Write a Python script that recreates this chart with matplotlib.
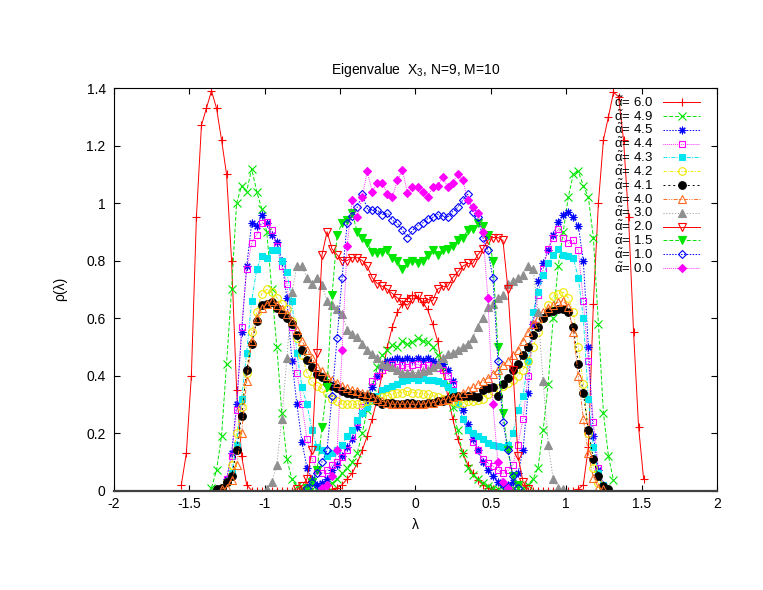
import matplotlib
matplotlib.use('Agg')
import matplotlib.pyplot as plt
import numpy as np

# bin grid shared by all curves: lam = lam0 + step * k
lam0 = -1.62
step = 1.0 / 30

# alpha = 6.0
k_60 = 2
rho_60 = [0.02, 0.13, 0.40, 0.95, 1.27, 1.33, 1.39, 1.33, 1.22, 1.10, 0.80, 0.35, 0.12, 0.02,
          0, 0, 0, 0, 0, 0, 0, 0, 0, 0, 0, 0, 0, 0, 0, 0,
          0.005, 0.01, 0.02, 0.04, 0.06, 0.095, 0.14, 0.19, 0.25, 0.32, 0.41, 0.50, 0.57, 0.62, 0.65, 0.67,
          0.68, 0.67, 0.655, 0.63, 0.58, 0.52, 0.42, 0.33, 0.25, 0.18, 0.13, 0.09, 0.06, 0.035, 0.02, 0.01, 0.005,
          0, 0, 0, 0, 0, 0, 0, 0, 0, 0, 0, 0, 0, 0, 0, 0,
          0.005, 0.02, 0.15, 0.65, 1.0, 1.22, 1.30, 1.385, 1.37, 1.22, 0.95, 0.55, 0.22, 0.04]

# alpha = 4.9
k_49 = 8
rho_49 = [0.01, 0.07, 0.19, 0.44, 0.70, 1.00, 1.06, 1.04, 1.12, 1.04, 0.98, 0.90, 0.70, 0.50, 0.27, 0.11,
          0.04, 0.015, 0.01, 0.005, 0.005, 0.005, 0.01, 0.015, 0.025, 0.04, 0.06, 0.08, 0.10, 0.13, 0.20, 0.28,
          0.36, 0.43, 0.47, 0.49, 0.505, 0.50, 0.52, 0.51, 0.515, 0.53, 0.52, 0.515, 0.50, 0.47, 0.43, 0.37,
          0.29, 0.21, 0.13, 0.08, 0.055, 0.04, 0.025, 0.015, 0.01, 0.005, 0.005, 0.005, 0.01, 0.01, 0.01, 0.02,
          0.04, 0.08, 0.21, 0.37, 0.60, 0.78, 0.90, 1.02, 1.10, 1.11, 1.06, 1.02, 0.88, 0.58, 0.27, 0.12, 0.035]

# alpha = 4.5
k_45 = 10
rho_45 = [0.01, 0.04, 0.13, 0.30, 0.55, 0.78, 0.93, 0.92, 0.96, 0.93, 0.89, 0.865, 0.80, 0.67, 0.45, 0.30,
          0.17, 0.08, 0.04, 0.02, 0.025, 0.04, 0.07, 0.09, 0.12, 0.15, 0.18, 0.22, 0.27, 0.31, 0.36, 0.40,
          0.43, 0.45, 0.455, 0.46, 0.455, 0.46, 0.455, 0.46, 0.455, 0.46, 0.45, 0.445, 0.44, 0.42, 0.38, 0.33,
          0.28, 0.23, 0.18, 0.14, 0.10, 0.07, 0.05, 0.03, 0.02, 0.02, 0.03, 0.06, 0.14, 0.34, 0.58, 0.73,
          0.79, 0.835, 0.89, 0.935, 0.96, 0.97, 0.95, 0.92, 0.80, 0.50, 0.19, 0.07, 0.02]

# alpha = 4.4
k_44 = 10
rho_44 = [0.01, 0.04, 0.12, 0.28, 0.57, 0.77, 0.86, 0.89, 0.93, 0.935, 0.905, 0.85, 0.78, 0.72, 0.57, 0.41,
          0.30, 0.18, 0.11, 0.07, 0.06, 0.07, 0.09, 0.10, 0.115, 0.14, 0.19, 0.24, 0.29, 0.33, 0.38, 0.40,
          0.42, 0.43, 0.44, 0.43, 0.435, 0.43, 0.435, 0.44, 0.43, 0.435, 0.43, 0.425, 0.42, 0.40, 0.37, 0.30,
          0.25, 0.21, 0.17, 0.14, 0.11, 0.095, 0.085, 0.07, 0.06, 0.07, 0.09, 0.16, 0.25, 0.40, 0.58, 0.68,
          0.77, 0.84, 0.88, 0.91, 0.88, 0.86, 0.87, 0.835, 0.66, 0.45, 0.24, 0.08, 0.02]

# alpha = 4.3
k_43 = 10
rho_43 = [0.01, 0.03, 0.06, 0.16, 0.32, 0.48, 0.66, 0.77, 0.815, 0.81, 0.835, 0.835, 0.80, 0.76, 0.66, 0.48,
          0.36, 0.30, 0.21, 0.15, 0.14, 0.12, 0.13, 0.14, 0.16, 0.19, 0.21, 0.245, 0.27, 0.29, 0.31, 0.33,
          0.35, 0.355, 0.365, 0.37, 0.38, 0.385, 0.39, 0.385, 0.39, 0.385, 0.385, 0.38, 0.375, 0.36, 0.345, 0.30,
          0.25, 0.21, 0.20, 0.19, 0.18, 0.165, 0.16, 0.155, 0.15, 0.16, 0.20, 0.28, 0.33, 0.45, 0.62, 0.69,
          0.75, 0.79, 0.82, 0.84, 0.82, 0.815, 0.81, 0.74, 0.60, 0.32, 0.15, 0.06, 0.02]

# alpha = 4.2
k_42 = 10
rho_42 = [0.01, 0.03, 0.09, 0.20, 0.29, 0.41, 0.55, 0.62, 0.685, 0.70, 0.69, 0.67, 0.65, 0.63, 0.59, 0.53,
          0.47, 0.41, 0.38, 0.365, 0.355, 0.34, 0.32, 0.31, 0.30, 0.30, 0.30, 0.30, 0.305, 0.31, 0.315, 0.32,
          0.325, 0.33, 0.335, 0.34, 0.34, 0.345, 0.34, 0.34, 0.335, 0.335, 0.33, 0.325, 0.32, 0.315, 0.31, 0.305,
          0.305, 0.31, 0.31, 0.315, 0.32, 0.335, 0.345, 0.355, 0.365, 0.375, 0.385, 0.40, 0.42, 0.45, 0.50, 0.55,
          0.60, 0.645, 0.675, 0.685, 0.69, 0.67, 0.62, 0.50, 0.37, 0.20, 0.08, 0.025, 0.01]

# alpha = 4.1
k_41 = 9
rho_41 = [0.005, 0.01, 0.03, 0.05, 0.14, 0.26, 0.42, 0.51, 0.59, 0.645, 0.65, 0.655, 0.635, 0.615, 0.60, 0.58,
          0.54, 0.49, 0.455, 0.43, 0.405, 0.395, 0.375, 0.365, 0.355, 0.345, 0.34, 0.335, 0.335, 0.33, 0.33, 0.325,
          0.31, 0.30, 0.305, 0.305, 0.30, 0.30, 0.305, 0.305, 0.30, 0.30, 0.305, 0.305, 0.31, 0.31, 0.32, 0.325,
          0.33, 0.33, 0.33, 0.33, 0.325, 0.35, 0.355, 0.36, 0.33, 0.37, 0.39, 0.42, 0.44, 0.47, 0.50, 0.54,
          0.57, 0.60, 0.62, 0.625, 0.63, 0.63, 0.62, 0.57, 0.44, 0.34, 0.21, 0.11, 0.05, 0.015, 0.005]

# alpha = 4.0
k_40 = 10
rho_40 = [0.005, 0.01, 0.035, 0.09, 0.20, 0.38, 0.52, 0.60, 0.635, 0.65, 0.66, 0.645, 0.63, 0.615, 0.59, 0.56,
          0.52, 0.49, 0.46, 0.43, 0.415, 0.40, 0.385, 0.375, 0.365, 0.355, 0.35, 0.345, 0.34, 0.335, 0.325, 0.32,
          0.31, 0.305, 0.30, 0.30, 0.30, 0.30, 0.30, 0.30, 0.30, 0.305, 0.305, 0.31, 0.315, 0.32, 0.325, 0.33,
          0.34, 0.35, 0.36, 0.37, 0.38, 0.39, 0.405, 0.42, 0.435, 0.45, 0.47, 0.49, 0.52, 0.55, 0.58, 0.60,
          0.62, 0.635, 0.645, 0.655, 0.66, 0.64, 0.55, 0.40, 0.25, 0.13, 0.045, 0.01, 0.005]

# alpha = 3.0
k_30 = 19
rho_30 = [0.005, 0.03, 0.09, 0.25, 0.46, 0.69, 0.78, 0.78, 0.74, 0.72, 0.74, 0.715, 0.66, 0.645, 0.63, 0.615,
          0.56, 0.545, 0.535, 0.51, 0.49, 0.475, 0.46, 0.44, 0.435, 0.43, 0.42, 0.41, 0.41, 0.41, 0.41, 0.415,
          0.42, 0.43, 0.44, 0.46, 0.475, 0.48, 0.49, 0.50, 0.51, 0.53, 0.57, 0.60, 0.64, 0.65, 0.67, 0.68,
          0.72, 0.73, 0.74, 0.75, 0.78, 0.77, 0.62, 0.38, 0.16, 0.04, 0.01, 0.005]

# alpha = 2.0
k_20 = 25
rho_20 = [0.005, 0.015, 0.04, 0.14, 0.48, 0.82, 0.90, 0.84, 0.82, 0.80, 0.80, 0.81, 0.81, 0.80, 0.78, 0.74,
          0.72, 0.71, 0.70, 0.685, 0.67, 0.655, 0.645, 0.665, 0.675, 0.655, 0.665, 0.66, 0.70, 0.71, 0.71, 0.74,
          0.76, 0.78, 0.79, 0.79, 0.82, 0.84, 0.87, 0.88, 0.88, 0.87, 0.70, 0.42, 0.12, 0.03, 0.005]

# alpha = 1.5
k_15 = 27
rho_15 = [0.01, 0.03, 0.07, 0.22, 0.36, 0.68, 0.89, 0.93, 0.94, 0.965, 0.90, 0.88, 0.86, 0.83, 0.825, 0.83,
          0.835, 0.81, 0.80, 0.77, 0.79, 0.80, 0.79, 0.80, 0.82, 0.835, 0.82, 0.835, 0.84, 0.85, 0.87, 0.88,
          0.905, 0.91, 0.93, 0.92, 0.89, 0.80, 0.50, 0.27, 0.14, 0.05, 0.02]

# alpha = 1.0
k_10 = 27
rho_10 = [0.01, 0.03, 0.06, 0.10, 0.14, 0.33, 0.53, 0.74, 0.93, 0.955, 0.985, 1.03, 0.98, 0.975, 0.975, 0.96,
          0.965, 0.94, 0.93, 0.905, 0.88, 0.905, 0.92, 0.93, 0.945, 0.95, 0.96, 0.955, 0.95, 0.97, 0.985, 1.01,
          1.03, 0.97, 0.95, 0.88, 0.835, 0.74, 0.45, 0.24, 0.14, 0.05, 0.01]

# alpha = 0.0
k_00 = 30
rho_00 = [0.01, 0.02, 0.05, 0.14, 0.49, 0.85, 1.01, 0.95, 1.02, 1.11, 1.04, 1.07, 1.07, 1.03, 1.02, 1.08,
          1.115, 1.035, 1.055, 1.055, 1.04, 1.02, 1.055, 1.06, 1.09, 1.055, 1.07, 1.10, 1.08, 1.01, 0.985, 0.965,
          0.90, 0.67, 0.30, 0.10, 0.03, 0.01]

alphas = ['6.0', '4.9', '4.5', '4.4', '4.3', '4.2', '4.1', '4.0', '3.0', '2.0', '1.5', '1.0', '0.0']
starts = [k_60, k_49, k_45, k_44, k_43, k_42, k_41, k_40, k_30, k_20, k_15, k_10, k_00]
curves = [rho_60, rho_49, rho_45, rho_44, rho_43, rho_42, rho_41, rho_40, rho_30, rho_20, rho_15, rho_10, rho_00]

# gnuplot-like styles: colour, marker, filled?, dash
red, green, blue, mag, cyan = '#ff0000', '#00e600', '#0000ff', '#ff00ff', '#00e5ee'
styles = [
    (red, '+', False, '-'),
    (green, 'x', False, (0, (4, 2))),
    (blue, (8, 2, 0), False, (0, (1.5, 1.5))),
    (mag, 's', False, (0, (0.8, 1.2))),
    (cyan, 's', True, (0, (4, 1.5, 1, 1.5))),
    ('#f0e800', 'o', False, (0, (3, 1.5, 1, 1.5))),
    ('black', 'o', True, (0, (2, 3))),
    ('#ff6a20', '^', False, (0, (4, 1.5, 1, 1.5, 1, 1.5))),
    ('#909090', '^', True, (0, (1, 2))),
    (red, 'v', False, '-'),
    (green, 'v', True, (0, (4, 2))),
    (blue, 'D', False, (0, (1.5, 1.5))),
    (mag, 'D', True, (0, (0.8, 1.2))),
]

plt.rcParams['font.family'] = ['Liberation Sans', 'DejaVu Sans']
plt.rcParams['mathtext.fontset'] = 'custom'
plt.rcParams['mathtext.rm'] = 'Liberation Sans'
plt.rcParams['mathtext.it'] = 'Liberation Sans'
plt.rcParams['axes.unicode_minus'] = False

fig = plt.figure(figsize=(7.63, 5.90), dpi=100)
ax = fig.add_axes([0.1494, 0.1686, 0.7903, 0.6822])

for a, k0, rho, (col, mk, filled, ls) in zip(alphas, starts, curves, styles):
    lam = lam0 + step * (k0 + np.arange(len(rho)))
    ms = 5.5
    if mk in ('D',):
        ms = 4.5
    if mk in ('s',):
        ms = 5
    ax.plot(lam, rho, color=col, lw=0.7, ls=ls, marker=mk, ms=ms, mew=0.8,
            mfc=col if filled else 'none', mec=col,
            label=r'$\tilde{\alpha}$= ' + a)

ax.set_xlim(-2, 2)
ax.set_ylim(0, 1.4)
ax.set_xticks(np.arange(-2, 2.01, 0.5))
ax.set_yticks(np.arange(0, 1.41, 0.2))
ax.xaxis.set_major_formatter(matplotlib.ticker.FormatStrFormatter('%g'))
ax.yaxis.set_major_formatter(matplotlib.ticker.FormatStrFormatter('%g'))
ax.tick_params(direction='in', top=True, right=True, length=4, width=0.8, labelsize=10)
ax.tick_params(axis='x', pad=5)
ax.tick_params(axis='y', pad=6)
for s in ax.spines.values():
    s.set_linewidth(0.8)
ax.spines['bottom'].set_linewidth(1.6)
ax.spines['bottom'].set_color('#404040')

ax.set_title(r'Eigenvalue  X$_3$, N=9, M=10', fontsize=10, pad=10)
ax.set_xlabel('λ', fontsize=10, labelpad=5)
ax.set_ylabel('ρ(λ)', fontsize=10, labelpad=14)

leg = ax.legend(loc='upper right', bbox_to_anchor=(0.972, 0.982), frameon=False, markerfirst=False,
                fontsize=9.5, handlelength=2.8, handletextpad=0.75, labelspacing=-0.05,
                borderpad=0, borderaxespad=0)

fig.savefig('out.png', dpi=100)
